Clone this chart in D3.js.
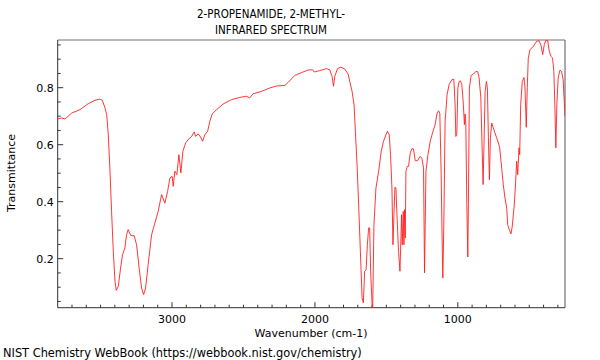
<!DOCTYPE html>
<html><head><meta charset="utf-8">
<script src="https://cdn.jsdelivr.net/npm/d3@7"></script>
<style>body{margin:0;background:#fff}svg{display:block}text{font-family:"DejaVu Sans",sans-serif}</style>
</head><body><svg id="c" width="600" height="360"></svg>
<script>
const titleLines = ["2-PROPENAMIDE, 2-METHYL-", "INFRARED SPECTRUM"];
const xLabel = "Wavenumber (cm-1)";
const yLabel = "Transmittance";
const footer = "NIST Chemistry WebBook (https://webbook.nist.gov/chemistry)";
const xTickLabels = [1000, 2000, 3000];
const yTickLabels = [0.2, 0.4, 0.6, 0.8];
const wavenumber = [3800,3772,3749,3702,3644,3586,3539,3504,3488,3469,3457,3446,3434,3423,3411,3399,3390,3376,3360,3346,3330,3318,3307,3288,3265,3248,3230,3213,3199,3185,3167,3143,3120,3097,3073,3050,3031,3015,2999,2992,2980,2966,2952,2938,2924,2905,2887,2863,2845,2835,2817,2800,2786,2770,2751,2735,2719,2688,2642,2584,2526,2479,2456,2433,2421,2374,2316,2269,2210,2187,2141,2094,2047,2016,2005,1966,1919,1896,1880,1870,1861,1842,1819,1792,1768,1740,1726,1717,1705,1694,1682,1670,1661,1652,1642,1633,1624,1617,1610,1600,1596,1587,1573,1554,1536,1520,1503,1492,1480,1471,1461,1454,1447,1440,1433,1426,1415,1405,1398,1394,1389,1382,1377,1373,1368,1363,1354,1345,1333,1321,1310,1298,1282,1263,1251,1240,1233,1223,1209,1193,1177,1159,1145,1135,1126,1117,1110,1105,1098,1089,1075,1061,1042,1028,1019,1014,1007,1000,991,982,972,961,954,949,944,937,930,926,919,907,891,874,860,851,839,832,823,816,809,800,793,786,779,772,763,753,740,728,716,707,693,682,670,658,651,640,628,619,605,595,588,581,572,567,560,549,537,530,521,514,507,495,472,448,432,418,406,395,385,371,360,348,337,328,321,314,307,298,286,274,263,250];
const transmittance = [0.690,0.694,0.690,0.711,0.723,0.744,0.756,0.760,0.756,0.729,0.705,0.635,0.507,0.366,0.226,0.121,0.089,0.103,0.167,0.214,0.238,0.284,0.302,0.281,0.281,0.249,0.167,0.097,0.074,0.097,0.179,0.284,0.325,0.366,0.425,0.395,0.436,0.483,0.489,0.454,0.507,0.495,0.565,0.501,0.577,0.606,0.618,0.629,0.645,0.629,0.638,0.627,0.612,0.635,0.647,0.682,0.708,0.723,0.743,0.758,0.766,0.770,0.764,0.779,0.780,0.787,0.799,0.806,0.808,0.819,0.843,0.853,0.862,0.863,0.855,0.860,0.867,0.862,0.840,0.805,0.840,0.867,0.872,0.866,0.848,0.787,0.740,0.647,0.530,0.389,0.226,0.062,0.045,0.156,0.161,0.249,0.308,0.308,0.156,0.039,0.015,0.319,0.448,0.507,0.577,0.612,0.635,0.647,0.635,0.565,0.448,0.249,0.354,0.451,0.448,0.354,0.226,0.156,0.273,0.354,0.249,0.366,0.249,0.372,0.273,0.507,0.524,0.524,0.571,0.586,0.585,0.544,0.544,0.559,0.551,0.518,0.150,0.507,0.565,0.612,0.641,0.670,0.711,0.719,0.711,0.507,0.273,0.132,0.319,0.682,0.776,0.811,0.828,0.830,0.740,0.629,0.635,0.799,0.822,0.824,0.811,0.740,0.670,0.708,0.670,0.389,0.206,0.389,0.799,0.843,0.848,0.857,0.856,0.834,0.764,0.624,0.460,0.624,0.787,0.822,0.800,0.624,0.477,0.624,0.676,0.661,0.641,0.624,0.606,0.589,0.518,0.460,0.413,0.378,0.319,0.302,0.287,0.314,0.389,0.472,0.542,0.495,0.589,0.565,0.740,0.822,0.836,0.799,0.661,0.800,0.904,0.933,0.945,0.963,0.965,0.949,0.916,0.951,0.965,0.965,0.928,0.910,0.904,0.857,0.740,0.589,0.740,0.834,0.861,0.857,0.828,0.700];

const svg = d3.select("#c");
const L = 57.7, R = 565, T = 40, B = 307.7;
const x = d3.scaleLinear().domain([3800, 250]).range([L, R]);
const y = d3.scaleLinear().domain([0.8, 0.2]).range([87.7, 258.7]);

svg.append("clipPath").attr("id","clip").append("rect").attr("x",L).attr("y",T).attr("width",R-L).attr("height",B-T);

svg.append("line").attr("x1",L).attr("x2",R).attr("y1",T).attr("y2",T).attr("stroke","#a0a0a0").attr("stroke-width",1.3);
svg.append("line").attr("x1",R).attr("x2",R).attr("y1",T).attr("y2",B).attr("stroke","#555").attr("stroke-width",1);

const xMinor = d3.range(300, 3800, 100);
const xAx = svg.append("g").attr("transform",`translate(0,${B})`);
xAx.append("line").attr("x1",L).attr("x2",R).attr("stroke","#333");
xAx.selectAll(".mt").data(xMinor).join("line")
  .attr("x1",d=>x(d)).attr("x2",d=>x(d)).attr("y1",0)
  .attr("y2",d=>xTickLabels.includes(d)?-5.5:-3).attr("stroke","#333");
xAx.selectAll("text").data(xTickLabels).join("text")
  .attr("x",d=>x(d)).attr("y",15).attr("text-anchor","middle")
  .attr("font-size",11).attr("fill","#000").text(d=>d);

const yMinor = d3.range(1, 20).map(i => +(i*0.05).toFixed(2));
const yAx = svg.append("g").attr("transform",`translate(${L},0)`);
yAx.append("line").attr("y1",T).attr("y2",B).attr("stroke","#333");
yAx.selectAll(".mt").data(yMinor).join("line")
  .attr("y1",d=>y(d)).attr("y2",d=>y(d)).attr("x1",0)
  .attr("x2",d=>yTickLabels.includes(d)?5.5:3).attr("stroke","#333");
yAx.selectAll("text").data(yTickLabels).join("text")
  .attr("x",-4).attr("y",d=>y(d)).attr("dy","0.35em").attr("text-anchor","end")
  .attr("font-size",11).attr("fill","#000").text(d=>d.toFixed(1));

const pts = wavenumber.map((w,i)=>[w, transmittance[i]]);
svg.append("path").datum(pts).attr("clip-path","url(#clip)")
  .attr("fill","none").attr("stroke","#ff2020").attr("stroke-width",0.9)
  .attr("d", d3.line().x(d=>x(d[0])).y(d=>y(d[1])));

svg.append("text").attr("x",311).attr("y",333).attr("dy","0.35em").attr("text-anchor","middle").attr("font-size",11).text(xLabel);
svg.append("text").attr("transform","translate(11,173) rotate(-90)").attr("dy","0.35em").attr("text-anchor","middle").attr("font-size",11).text(yLabel);
svg.selectAll(".tt").data(titleLines).join("text").attr("x",271).attr("y",(d,i)=>14+i*16).attr("dy","0.35em")
  .attr("text-anchor","middle").attr("font-size",11.5)
  .style("font-family","'DejaVu Sans Condensed','DejaVu Sans',sans-serif").style("font-stretch","condensed").text(d=>d);
svg.append("text").attr("x",3).attr("y",353).attr("dy","0.35em").attr("font-size",11.4).text(footer);
</script></body></html>
